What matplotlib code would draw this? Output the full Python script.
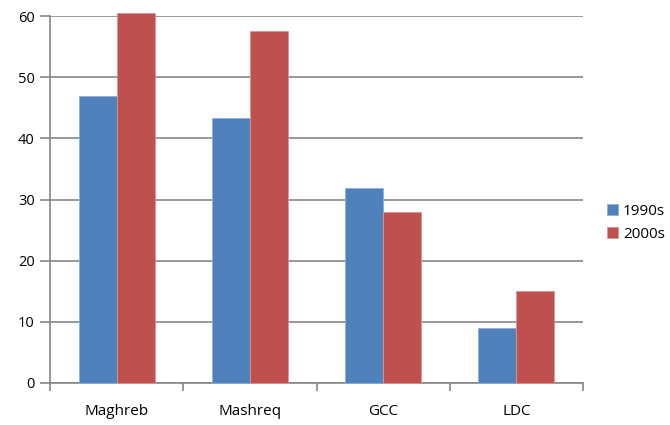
import matplotlib
matplotlib.use("Agg")
import matplotlib.pyplot as plt
import numpy as np

categories = ["Maghreb", "Mashreq", "GCC", "LDC"]
series_names = ["1990s", "2000s"]
values_1990s = [46.9, 43.4, 31.9, 9.0]
values_2000s = [60.5, 57.5, 27.9, 15.0]
yticks = [0, 10, 20, 30, 40, 50, 60]

plt.rcParams['font.family'] = ['Open Sans', 'DejaVu Sans']

fig = plt.figure(figsize=(6.7, 4.25), dpi=100)
ax = fig.add_axes([50/670, 1-383/425, (583-50)/670, (383-16)/425])

x = np.arange(len(categories))
w = 0.286
grid_c = "#868686"
b1 = ax.bar(x - w/2, values_1990s, w, color="#4F81BD", edgecolor="#8EAFD8", linewidth=0.6, label=series_names[0], zorder=3, clip_on=False)
b2 = ax.bar(x + w/2, values_2000s, w, color="#C0504D", edgecolor="#D99694", linewidth=0.6, label=series_names[1], zorder=3, clip_on=False)

ax.set_xlim(-0.5, 3.5)
ax.set_ylim(0, 60)
ax.set_yticks(yticks)
ax.set_yticklabels([str(t) for t in yticks], fontsize=10.5)
ax.set_xticks(x)
ax.set_xticklabels(categories, fontsize=11)
ax.set_xticks(np.arange(-0.5, 4, 1), minor=True)
ax.tick_params(axis='x', which='major', length=0, pad=15)
ax.tick_params(axis='x', which='minor', length=6, color=grid_c, width=1.2, direction='out')
ax.tick_params(axis='y', which='major', length=7, color=grid_c, width=1.2, direction='out', pad=4)
ax.yaxis.grid(True, color=grid_c, linewidth=1.2, zorder=0)
ax.set_axisbelow(True)
for s in ['top', 'right']:
    ax.spines[s].set_visible(False)
for s in ['left', 'bottom']:
    ax.spines[s].set_color(grid_c)
    ax.spines[s].set_linewidth(1.2)

leg = fig.legend(handles=[b1, b2], labels=series_names, loc='center left',
                 bbox_to_anchor=(593/670, 1-223/425), frameon=False, fontsize=11,
                 handlelength=0.75, handleheight=0.75, handletextpad=0.3, labelspacing=0.5)

fig.savefig("out.png", dpi=100)
